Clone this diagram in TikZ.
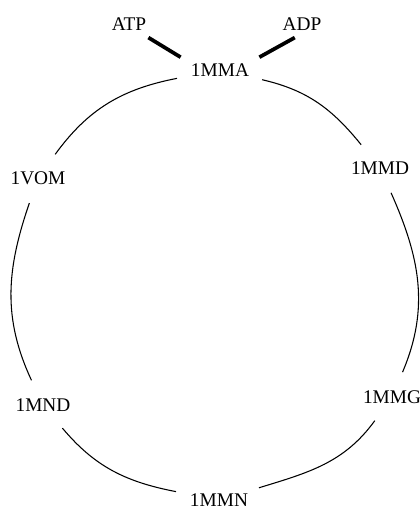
\documentclass[tikz,border=0pt]{standalone}
\usepackage{fontspec}
\setmainfont{Liberation Serif}
\usetikzlibrary{shapes.geometric}

\begin{document}
\begin{tikzpicture}[x=0.75pt,y=0.75pt,line width=0.8pt,
  every node/.style={font=\fontsize{14.5}{17}\selectfont},
  site/.style={ellipse,minimum width=67.5pt,minimum height=37.5pt,inner sep=0pt},
  ligand/.style={inner sep=5pt},
  bond/.style={line width=2.8pt}]
  \useasboundingbox (0,0) rectangle (420,510);
  \node[ligand] (atp) at (129,486) {ATP};
  \node[ligand] (adp) at (302,486) {ADP};
  \node[site]   (mma) at (220,440) {1MMA};
  \node[site]   (vom) at (38,332)  {1VOM};
  \node[site]   (mmd) at (380,342) {1MMD};
  \node[site]   (mnd) at (43,105)  {1MND};
  \node[site]   (mmg) at (392,113) {1MMG};
  \node[site]   (mmn) at (219,10)  {1MMN};

  \draw[bond] (atp.-35) -- (mma.162);
  \draw[bond] (adp.242) -- (mma.18);

  \path (mma) edge[out=191,in=54]  (vom)
        (vom) edge[out=251,in=115] (mnd)
        (mnd) edge[out=310,in=169] (mmn)
        (mmn) edge[out=17,in=234]  (mmg)
        (mmg) edge[out=67,in=294]  (mmd)
        (mmd) edge[out=129,in=347] (mma);
\end{tikzpicture}
\end{document}
